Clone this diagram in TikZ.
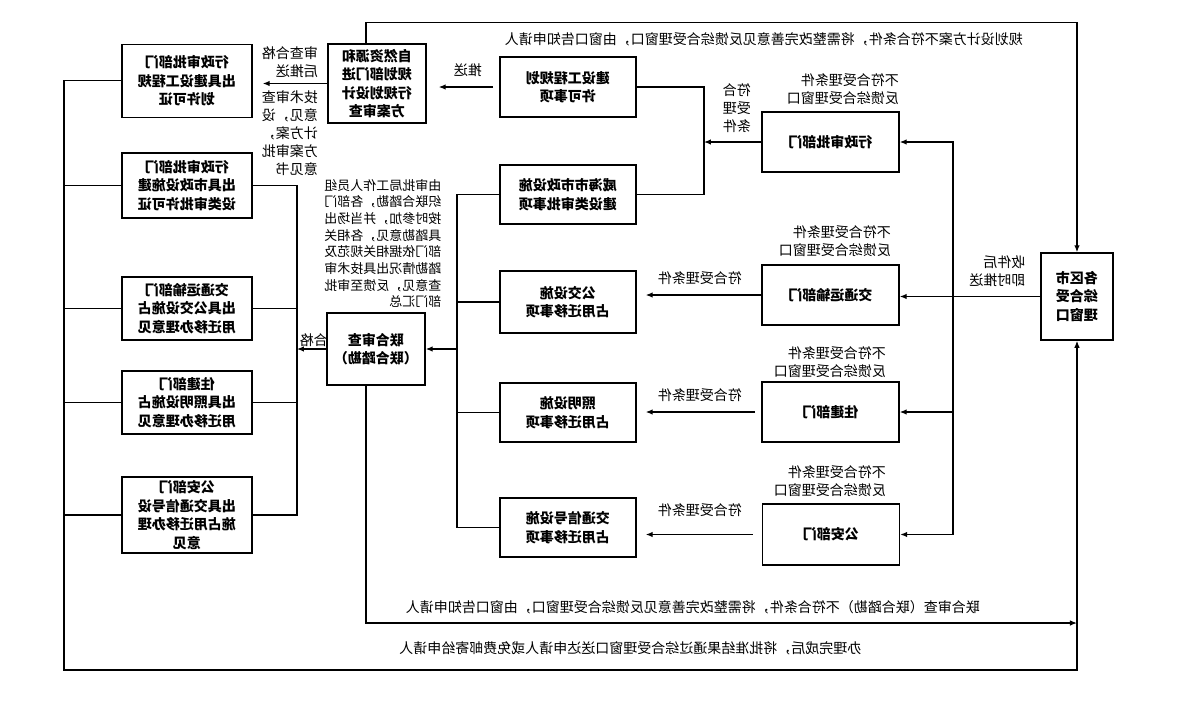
\documentclass[tikz,border=0pt]{standalone}
\usepackage{fontspec}
\setmainfont{Noto Sans CJK SC}
\usetikzlibrary{arrows.meta}

\begin{document}
\begin{tikzpicture}[x=1pt,y=-1pt,xscale=-1,
    every node/.style={transform shape},
    box/.style={draw,line width=1.5pt,align=center,inner sep=0pt,
      font=\fontsize{14}{18.5}\selectfont\bfseries},
    note/.style={align=left,inner sep=0pt,font=\fontsize{14}{18}\selectfont},
    wire/.style={line width=1.2pt},
    flow/.style={line width=1.2pt,-{Latex[length=7pt,width=5.5pt]}}]

    \useasboundingbox (0,0) rectangle (1181,702);

    % window and departments
    \node[box,minimum width=72pt,minimum height=87pt] (window) at (104,296.5) {各区市\\综合受\\理窗口};
    \node[box,minimum width=137pt,minimum height=60pt] (dept1) at (350.5,142) {行政审批部门};
    \node[box,minimum width=137pt,minimum height=60pt] (dept2) at (350.5,295) {交通运输部门};
    \node[box,minimum width=137pt,minimum height=60pt] (dept3) at (350.5,412) {住建部门};
    \node[box,minimum width=137pt,minimum height=61pt] (dept4) at (350,534.5) {公安部门};

    % items
    \node[box,minimum width=136pt,minimum height=60pt] (item1) at (613,87) {建设工程规划\\许可事项};
    \node[box,minimum width=136pt,minimum height=59pt] (item2) at (613,194.5) {威海市市政设施\\建设类审批事项};
    \node[box,minimum width=136pt,minimum height=62pt] (item3) at (613,302) {公交设施\\占用迁移事项};
    \node[box,minimum width=136pt,minimum height=59pt] (item4) at (613,412.5) {照明设施\\占用迁移事项};
    \node[box,minimum width=136pt,minimum height=59pt] (item5) at (613,527.5) {交通信号设施\\占用迁移事项};

    % reviews
    \node[box,minimum width=98pt,minimum height=79pt] (plan) at (804,83.5) {自然资源和\\规划部门进\\行规划设计\\方案审查};
    \node[box,minimum width=98pt,minimum height=72pt] (joint) at (805,349) {联合审查\\（联合踏勘）};

    % permits
    \node[box,minimum width=130pt,minimum height=73pt] (permit1) at (994,80.8) {行政审批部门\\出具建设工程规\\划许可证};
    \node[box,minimum width=130pt,minimum height=65pt] (permit2) at (994,185.5) {行政审批部门\\出具市政设施建\\设类审批许可证};
    \node[box,minimum width=130pt,minimum height=63pt] (permit3) at (994,308.5) {交通运输部门\\出具公交设施占\\用迁移办理意见};
    \node[box,minimum width=130pt,minimum height=63pt] (permit4) at (994,402.5) {住建部门\\出具照明设施占\\用迁移办理意见};
    \node[box,minimum width=130pt,minimum height=76pt] (permit5) at (994,515) {公安部门\\出具交通信号设\\施占用迁移办理\\意见};

    \coordinate (busR) at (228,296.5);
    \coordinate (busC) at (477,142);
    \coordinate (busL) at (724,349);
    \coordinate (busP) at (884,349);
    \coordinate (drop) at (815,0);
    \coordinate (rim) at (1117,670);
    \coordinate (meet) at (104,623);

    % intake
    \draw[flow] (window.east) -- (window.east -| dept2.west);
    \draw[flow] (busR) |- (dept1.west);
    \draw[flow] (busR) |- (dept3.west);
    \draw[flow] (busR) |- (dept4.west);

    % planning branch
    \draw[flow] (dept1.east) -- (dept1.east -| busC);
    \draw[wire] (item1.west) -| (busC) |- (item2.west);
    \draw[flow,shorten <=6pt,shorten >=12pt] (item1.east) -- (item1.east -| plan.west);
    \draw[flow,shorten >=10pt] (plan.east) -- (plan.east -| permit1.west);
    \draw[flow] (plan.north -| drop) -- ++(0,-21) -| (window.north);

    % other departments
    \draw[flow,shorten >=9pt] (dept2.east) -- (dept2.east -| item3.west);
    \draw[flow,shorten <=6pt,shorten >=9pt] (dept3.east) -- (dept3.east -| item4.west);
    \draw[flow,shorten <=9pt,shorten >=9pt] (dept4.east) -- (dept4.east -| item5.west);

    % joint review
    \draw[wire] (item2.east) -| (busL) |- (item5.east);
    \draw[wire] (item3.east) -- (item3.east -| busL);
    \draw[wire] (item4.east) -- (item4.east -| busL);
    \draw[flow] (busL) -- (joint.west);
    \draw[flow] (joint.east) -- (busP);
    \draw[wire] (permit2.west) -| (busP) |- (permit5.west);
    \draw[wire] (permit3.west) -- (permit3.west -| busP);
    \draw[wire] (permit4.west) -- (permit4.west -| busP);
    \draw[flow] (joint.south -| drop) |- (meet);

    % back to the window
    \draw[flow] (permit1.east) -| (rim) -| (window.south);
    \draw[wire] (permit2.east) -- (permit2.east -| rim);
    \draw[wire] (permit3.east) -- (permit3.east -| rim);
    \draw[wire] (permit4.east) -- (permit4.east -| rim);
    \draw[wire] (permit5.east) -- (permit5.east -| rim);

    % labels
    \node[note] (redo1) at (417,39) {规划设计方案不符合条件，将需整改完善意见反馈综合受理窗口，由窗口告知申请人};
    \node[note] (push) at (183.5,271) {收件后\\即时推送};
    \node[note] (back1) at (338,89) {不符合受理条件\\反馈综合受理窗口};
    \node[note] (back2) at (346,241.5) {不符合受理条件\\反馈综合受理窗口};
    \node[note] (back3) at (351,362) {不符合受理条件\\反馈综合受理窗口};
    \node[note] (back4) at (351,481) {不符合受理条件\\反馈综合受理窗口};
    \node[note] (ok1) at (444,108) {符合\\受理\\条件};
    \node[note] (ok2) at (481,278) {符合受理条件};
    \node[note] (ok3) at (481,395) {符合受理条件};
    \node[note] (ok4) at (481,510) {符合受理条件};
    \node[note] (send) at (713,70) {推送};
    \node[note] (pass1) at (891,62.5) {审查合格\\后推送};
    \node[note] (opinion) at (891,133.5) {技术审查\\意见，设\\计方案，\\方案审批\\意见书};
    \node[note,font=\fontsize{13}{16.7}\selectfont] (organize) at (798,243.5) {由审批局工作人员组\\织联合踏勘，各部门\\按时参加，并当场出\\具踏勘意见，各相关\\部门依据相关规范及\\踏勘情况出具技术审\\查意见，反馈至审批\\部门汇总};
    \node[note] (pass2) at (867,340) {合格};
    \node[note] (redo2) at (488,607) {联合审查（联合踏勘）不符合条件，将需整改完善意见反馈综合受理窗口，由窗口告知申请人};
    \node[note] (done) at (550.5,648) {办理完成后，将批准结果通过综合受理窗口送达申请人或免费邮寄给申请人};
\end{tikzpicture}
\end{document}
